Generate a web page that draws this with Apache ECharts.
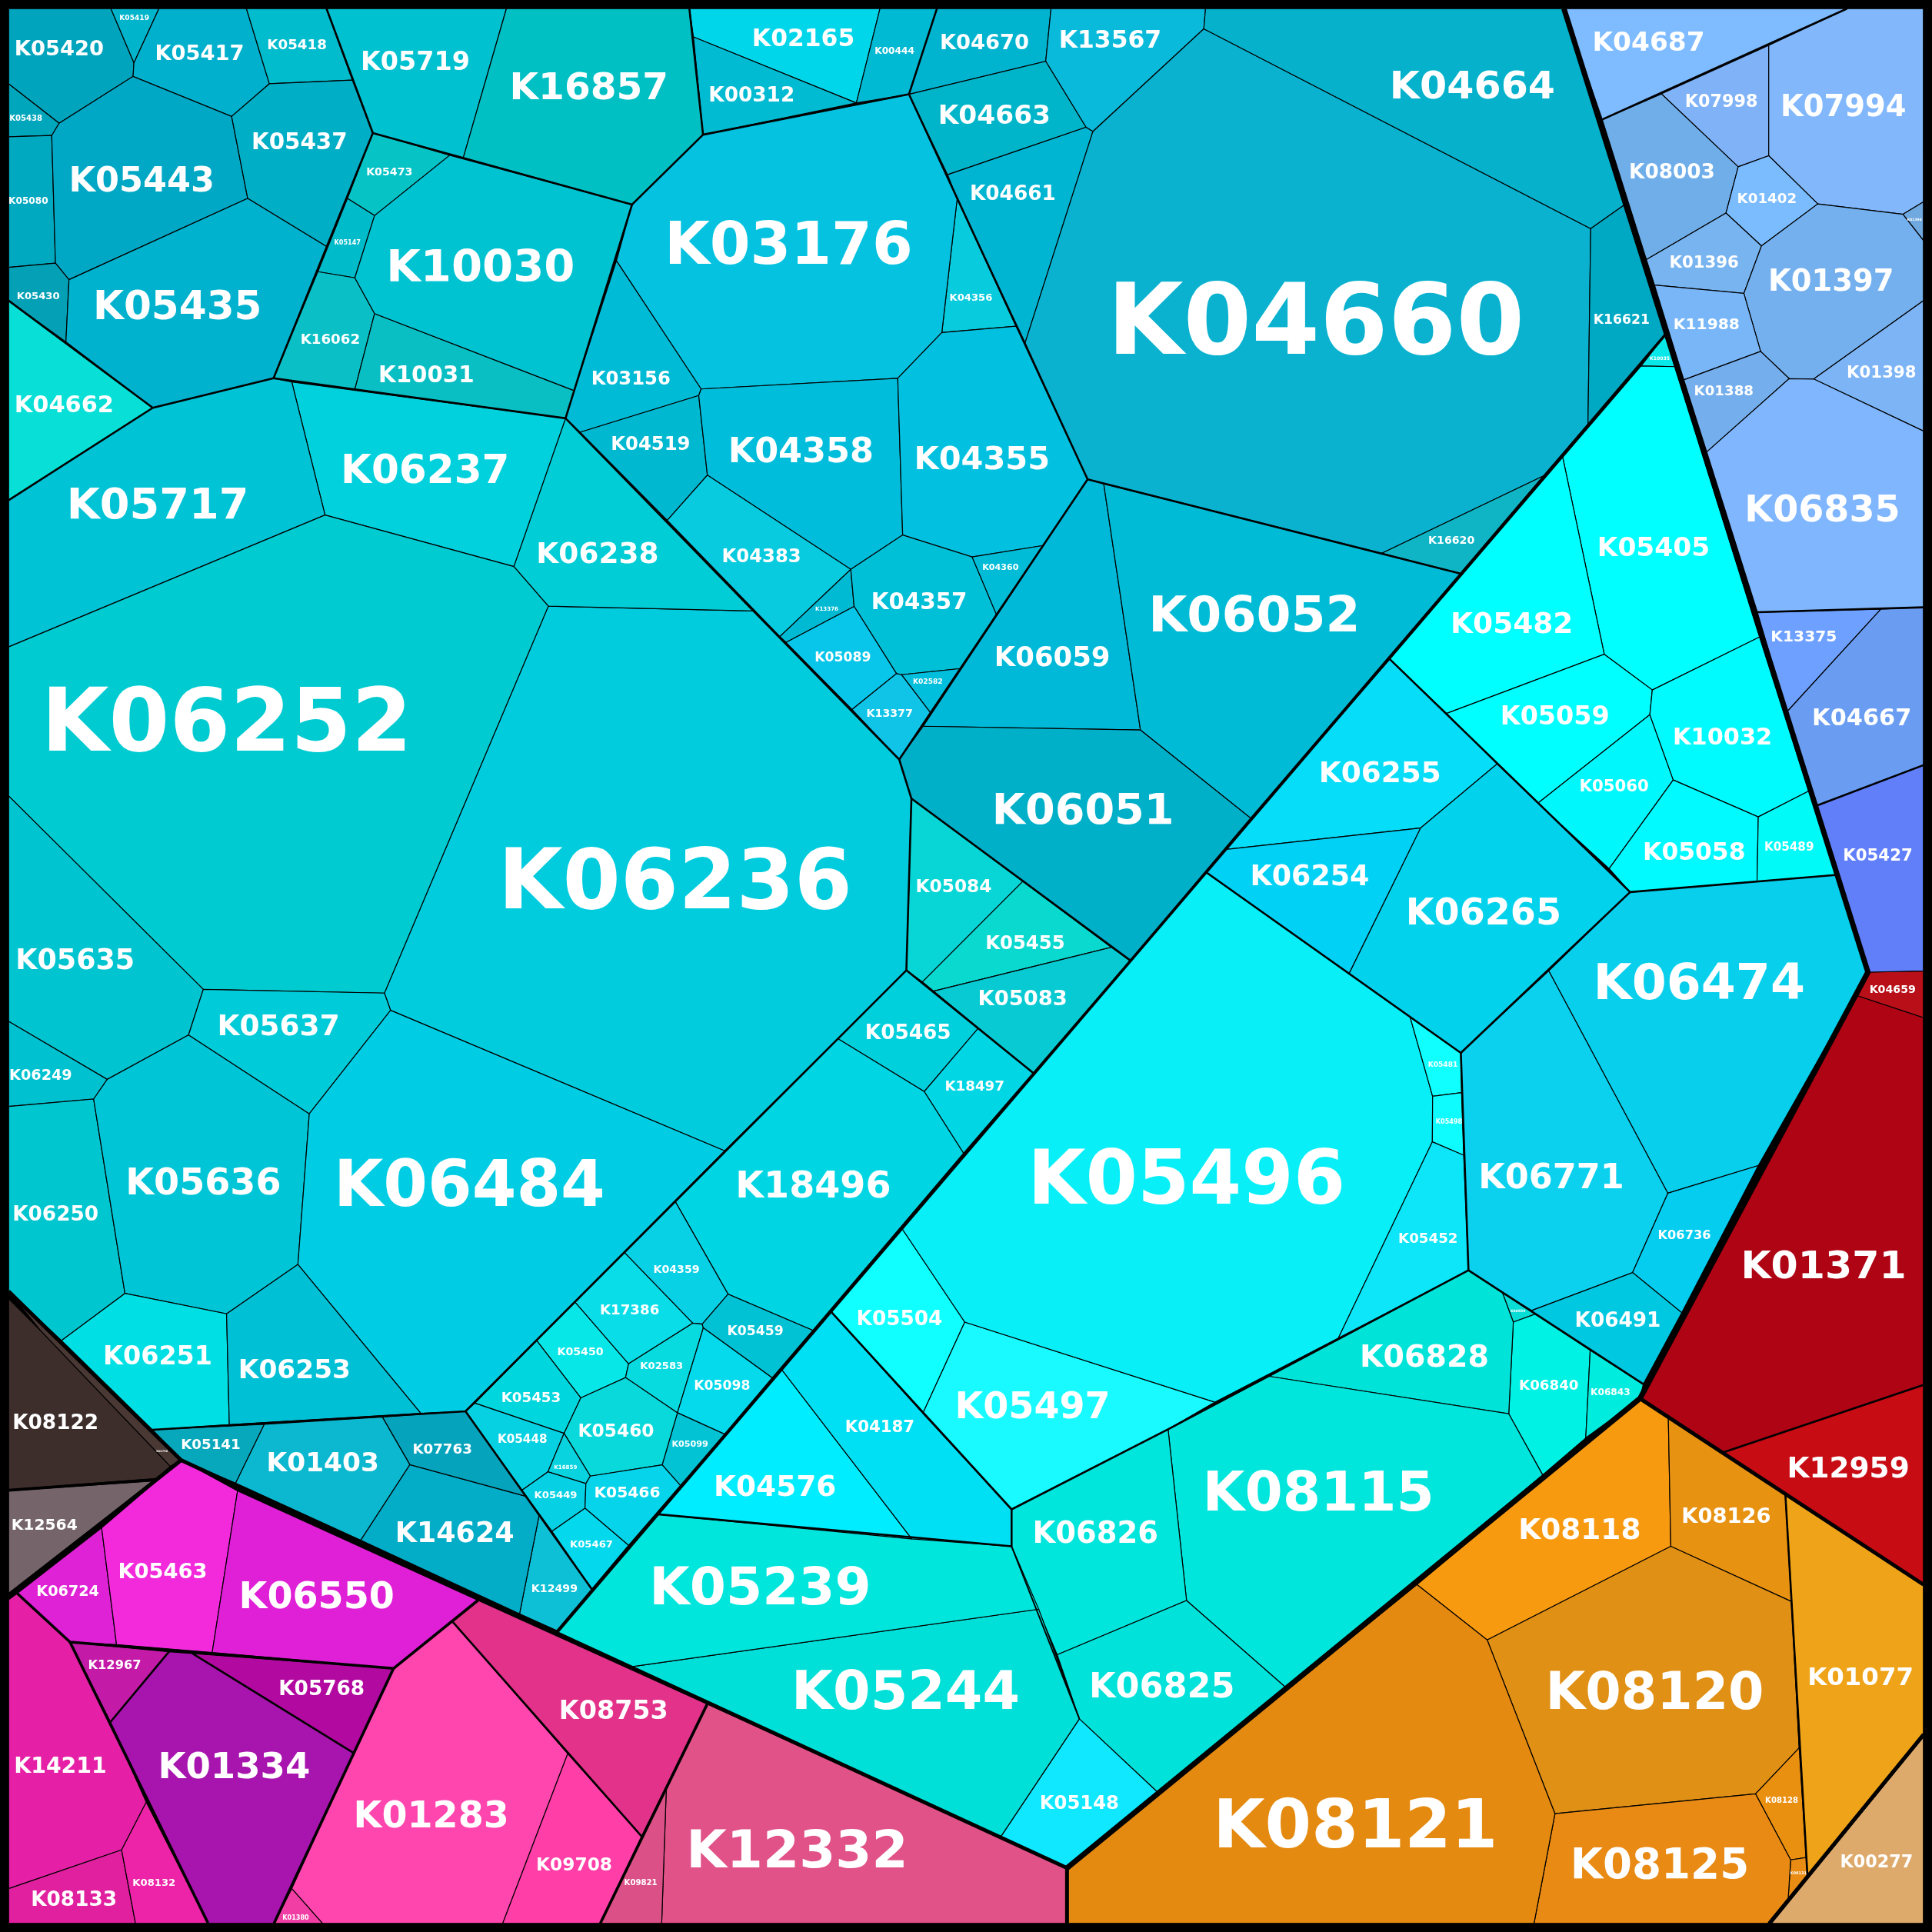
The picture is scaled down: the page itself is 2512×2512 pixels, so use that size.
<!DOCTYPE html>
<html>
<head>
<meta charset="utf-8">
<script src="https://cdn.jsdelivr.net/npm/echarts@6/dist/echarts.min.js"></script>
<style>html,body{margin:0;padding:0;background:#000}#main{width:2512px;height:2512px}</style>
</head>
<body>
<div id="main"></div>
<script>
// voronoi treemap, outlines are in a 1568 x 1568 data space and go through api.coord
var cellNames = [
 'K05420','K05419','K05417','K05418','K05438','K05080','K05443','K05437','K05430','K05435','K04662','K05473','K05147','K16062','K10031','K10030','K05719','K16857',
 'K02165','K00312','K00444','K04670','K13567','K04663','K04661','K04356','K03176','K03156','K04519','K04358','K04355','K04383','K13376','K04357','K04360','K05089','K02582','K13377','K06059','K06052','K06051','K04660','K04664','K16621','K16620',
 'K10035','K05405','K05482','K05059','K05060','K10032','K05058','K05489','K06255','K06254','K06265','K06474','K06771','K06736','K06491','K06839','K06840','K06843','K06828','K08115','K06826','K06825','K05148','K05244','K05239','K04576','K04187','K05504','K05497','K05496','K05481','K05498','K05452',
 'K05084','K05455','K05083','K05465','K18497','K18496','K04359','K17386','K05450','K05453','K05448','K02583','K05459','K05098','K05099','K05460','K16859','K05449','K05466','K05467','K12499','K14624','K07763','K01403','K05141',
 'K06236','K06238','K06237','K05717','K06252','K05635','K05637','K06249','K06250','K05636','K06484','K06251','K06253',
 'K08122','K01759','K12564',
 'K06724','K05463','K06550','K12967','K05768','K01334','K14211','K08133','K08132','K01283','K01380','K09708','K08753','K12332','K09821',
 'K08118','K08126','K08120','K01077','K08128','K08131','K08125','K08121','K00277',
 'K04659','K01371','K12959',
 'K04687','K07998','K07994','K08003','K01402','K01396','K01397','K11988','K01388','K01398','K01394','K06835','K13375','K04667','K05427'
];
var cellFills = [
 '#00a5bd','#00b5cb','#00b0cc','#00bccd','#00a6bb','#00a9c0','#00a8c5','#00aec6','#04a0b5','#00b2ce','#08e0d7','#06c3c6','#00bbca','#0ac0c6','#0abfc3','#00c3d2','#00c1cf','#00c0c4',
 '#00d6ea','#00bbd2','#00b9d2','#00b4d0','#0abadb','#00b5c9','#00b5d2','#08cbde','#05c2e0','#00bbd5','#00b8d0','#00bedb','#02c1e0','#08cbe0','#00bad4','#00c0d8','#00bcd7','#08c6ea','#00bfdc','#10c4e8','#00b9d8','#00bbd6','#00afc8','#0ab2cf','#05b1cb','#00a9c3','#0fb5c5',
 '#08e8e8','#00ffff','#00ffff','#00ffff','#00f8fd','#00fbff','#00faff','#00faf8','#06ddf8','#00d1f5','#03d2ec','#08cfec','#0bd1ee','#05cdf0','#00c8e0','#08ddd5','#00f2e4','#00ecde','#00e3d8','#00e6dc','#00e5dc','#00e2da','#10e8ff','#00e0d8','#00e6dd','#00edff','#00e0f4','#10ffff','#18faff','#08eff8','#10ffff','#0ffcff','#0ce6f8',
 '#08d6d6','#0ad9d0','#08cad2','#00cfdc','#00d6e4','#00d5e3','#08d0e5','#08dde8','#08e7e8','#00d6dd','#06d1e2','#08dbe0','#00c2d4','#04daec','#02c3d4','#0ad9dc','#08d3de','#06d0e4','#05d4ea','#04d8ec','#0ec0d6','#03acc7','#06a3bc','#0cb8cf','#08a8bc',
 '#00ccde','#00cdd6','#00d1dc','#00c3d6','#00cbd1','#00c4d0','#00cbd8','#00c1d0','#00c6cf','#00c5d6','#00cde4','#00dfe3','#00c0d6',
 '#3d2e2b','#4a3834','#75656a',
 '#e022d6','#f22adc','#e020d6','#c41aa8','#b20aa0','#a814ae','#e620a6','#e0209e','#ee24a8','#ff46ae','#f03ea4','#ff3ea8','#e2328a','#e05288','#dc5088',
 '#f89a10','#e89212','#e09014','#efa318','#ea9010','#e88c14','#e88a14','#e48a10','#deaa6c',
 '#b80f18','#ae0414','#c80c14',
 '#7ebbff','#7fb2f6','#82b8fb','#70aeea','#7bbcff','#78b4f0','#74b0ee','#78b6f8','#74aeec','#7cb4f6','#70a8e0','#7fb6fd','#6da0ff','#6a9df2','#627ffa'
];
var cellOutlines = [
 [[7,7],[90,7],[108.7,51],[108,62],[48,100],[7,68]],
 [[90,7],[129,7],[108.7,51]],
 [[129,7],[200,7],[218.6,68],[188,94.5],[108,62],[108.7,51]],
 [[200,7],[265,7],[286,65],[218.6,68]],
 [[7,68],[48,100],[42,110],[7,111]],
 [[7,111],[42,110],[45,213.6],[7,217]],
 [[42,110],[48,100],[108,62],[188,94.5],[201,161],[56,227],[45,213.6]],
 [[188,94.5],[218.6,68],[286,65],[302.6,108],[265,200],[201,161]],
 [[7,217],[45,213.6],[56,227],[53.5,277.5],[7,244]],
 [[56,227],[201,161],[265,200],[222,307],[124,331],[53.5,277.5]],
 [[7,244],[124,331],[7,406]],
 [[302.6,108],[365,126],[304,175],[282,161]],
 [[282,161],[304,175],[288,225.5],[258,220.5]],
 [[258,220.5],[288,225.5],[304,254.5],[288,316],[222,307]],
 [[304,254.5],[466,317],[459,339.5],[288,316]],
 [[365,126],[513,166],[466,317],[304,254.5],[288,225.5],[304,175]],
 [[265,7],[411,7],[376,128],[302.6,108],[286,65]],
 [[411,7],[559.5,7],[570.6,109.3],[513,166],[376,128]],

 [[559.5,7],[714.2,7],[695,83.6],[562.8,30]],
 [[562.8,30],[695,83.6],[570.6,109.3]],
 [[714.2,7],[760.4,7],[737.7,76.5],[695,83.6]],
 [[760.4,7],[853,7],[848.7,49.8],[737.7,76.5]],
 [[853,7],[978.4,7],[977,23.4],[887,106.7],[881.4,103.3],[848.7,49.8]],
 [[737.7,76.5],[848.7,49.8],[881.4,103.3],[769.1,141.8]],
 [[769.1,141.8],[881.4,103.3],[887,106.7],[832,278.2],[776.8,161.5]],
 [[776.8,161.5],[824.6,264.8],[764.4,269.9]],
 [[513,166],[570.6,109.3],[737.7,76.5],[776.8,161.5],[764.4,269.9],[728.6,307],[569,315.7],[500.3,211.7]],
 [[500.3,211.7],[569,315.7],[567.1,321],[470.8,350.8],[459,339.5],[466,317]],
 [[470.8,350.8],[567.1,321],[574.1,385.6],[541.5,422.3]],
 [[569,315.7],[728.6,307],[732.6,434.2],[690.5,462.1],[574.1,385.6],[567.1,321]],
 [[728.6,307],[764.4,269.9],[824.6,264.8],[832,278.2],[882.7,389],[846.8,442.7],[789,452],[732.6,434.2]],
 [[541.5,422.3],[574.1,385.6],[690.5,462.1],[633,516.6]],
 [[690.5,462.1],[693.2,492.2],[638,521.4],[633,516.6]],
 [[690.5,462.1],[732.6,434.2],[789,452],[808.6,498.5],[780,542.6],[731.7,547.6],[727.6,546.7],[693.2,492.2]],
 [[789,452],[846.8,442.7],[808.6,498.5]],
 [[638,521.4],[693.2,492.2],[727.6,546.7],[691.5,575.8]],
 [[731.7,547.6],[780,542.6],[755,578.3]],
 [[691.5,575.8],[727.6,546.7],[731.7,547.6],[755,578.3],[729.8,616.4]],
 [[882.7,389],[895.8,392.8],[925.6,592.5],[749.3,589.4]],
 [[895.8,392.8],[1121.6,449],[1185.2,465.5],[1015,664],[925.6,592.5]],
 [[749.3,589.4],[925.6,592.5],[1015,664],[917.2,779.4],[739.7,648.1],[729.8,616.4]],
 [[977,23.4],[1291,185.6],[1288.8,344.4],[1252.7,386.2],[1121.6,449],[882.7,389],[832,278.2],[887,106.7]],
 [[978.4,7],[1269.3,7],[1318,166.5],[1291,185.6],[977,23.4]],
 [[1291,185.6],[1318,166.5],[1351.7,271.5],[1288.8,344.4]],
 [[1121.6,449],[1252.7,386.2],[1185.2,465.5]],

 [[1351.7,271.5],[1359.4,297.6],[1331.9,297]],
 [[1268.3,371.2],[1331.9,297],[1359.4,297.6],[1428,517],[1341,560],[1302,531]],
 [[1128,535],[1268.3,371.2],[1302,531],[1174,579]],
 [[1174,579],[1302,531],[1341,560],[1339,580],[1248,652],[1215,620]],
 [[1248,652],[1339,580],[1358,633],[1306,705]],
 [[1341,560],[1428,517],[1468,642],[1427,663],[1358,633],[1339,580]],
 [[1306,705],[1358,633],[1427,663],[1426,716],[1323,724]],
 [[1427,663],[1468,642],[1491,710],[1426,716]],
 [[1128,535],[1174,579],[1215,620],[1153,672],[994,689.5]],
 [[994,689.5],[1153,672],[1095,790],[979,708]],
 [[1153,672],[1215,620],[1323,724],[1185.6,854.5],[1095,790]],
 [[1323,724],[1491,710],[1516,789],[1427,946],[1353.6,968.4],[1257,788]],
 [[1185.6,854.5],[1257,788],[1353.6,968.4],[1325,1032.8],[1243.2,1063.6],[1219.3,1049],[1191.8,1031],[1187.9,937.6],[1186.2,886.8]],
 [[1353.6,968.4],[1427,946],[1364.9,1065.4],[1325,1032.8]],
 [[1243.2,1063.6],[1325,1032.8],[1364.9,1065.4],[1333.7,1123.3],[1245.9,1066.5]],
 [[1219.3,1049],[1245.9,1066.5],[1228.2,1073]],
 [[1228.2,1073],[1245.9,1066.5],[1290.6,1095.9],[1287,1167],[1252,1197],[1224.5,1147.4]],
 [[1290.6,1095.9],[1333.7,1123.3],[1331,1135],[1287,1167]],
 [[1191.8,1031],[1219.3,1049],[1228.2,1073],[1224.5,1147.4],[1030,1117]],
 [[1030,1117],[1224.5,1147.4],[1252,1197],[1044,1370],[963,1299],[948,1160]],
 [[948,1160],[963,1299],[858,1343],[821,1255],[821,1225]],
 [[858,1343],[963,1299],[1044,1370],[940,1455],[876,1395]],
 [[876,1395],[940,1455],[866,1516],[812,1491]],
 [[510,1353],[843,1306],[876,1395],[812,1491]],
 [[452,1325],[534,1229],[821,1255],[843,1306],[510,1353]],
 [[534,1229],[634,1111],[740,1249]],
 [[634,1111],[674,1064],[749,1147],[821,1225],[821,1255],[740,1249]],
 [[674,1064],[732,997],[783,1073],[749,1147]],
 [[749,1147],[783,1073],[986,1138],[948,1160],[821,1225]],
 [[979,708],[1144.4,825.3],[1162.7,889.7],[1162.5,926.7],[1086.2,1086],[986,1138],[783,1073],[732,997]],
 [[1144.4,825.3],[1185.6,854.5],[1186.2,886.8],[1162.7,889.7]],
 [[1162.7,889.7],[1186.2,886.8],[1187.9,937.6],[1162.5,926.7]],
 [[1162.5,926.7],[1187.9,937.6],[1191.8,1031],[1086.2,1086]],

 [[739.7,648.1],[830.2,715.3],[748.7,796.9],[735.6,787.5]],
 [[830.2,715.3],[902,768.8],[757.8,804.4],[748.7,796.9]],
 [[757.8,804.4],[902,768.8],[917.2,779.4],[838.5,870.7]],
 [[735.6,787.5],[793.8,834.7],[750.1,885.9],[680,843]],
 [[793.8,834.7],[838.5,870.7],[782,936],[750.1,885.9]],
 [[680,843],[750.1,885.9],[782,936],[659.7,1079.7],[590.9,1050.3],[547.9,974.9]],
 [[547.9,974.9],[590.9,1050.3],[569.9,1074.6],[562.2,1073.9],[506.8,1016.6]],
 [[506.8,1016.6],[562.2,1073.9],[510.1,1106.9],[466.7,1056.9]],
 [[466.7,1056.9],[510.1,1106.9],[507.7,1118],[471.4,1134.5],[435.6,1088.1]],
 [[435.6,1088.1],[471.4,1134.5],[457.8,1163.3],[385.4,1138.8]],
 [[385.4,1138.8],[457.8,1163.3],[444.7,1194.5],[423.7,1209.4],[377.8,1145.4]],
 [[510.1,1106.9],[562.2,1073.9],[569.9,1074.6],[570.8,1077.7],[549.8,1146.6],[507.7,1118]],
 [[569.9,1074.6],[590.9,1050.3],[659.7,1079.7],[626.7,1118.2],[570.8,1077.7]],
 [[570.8,1077.7],[626.7,1118.2],[588,1163.9],[549.8,1146.6]],
 [[549.8,1146.6],[588,1163.9],[552.2,1205.6],[537.4,1188.9]],
 [[471.4,1134.5],[507.7,1118],[549.8,1146.6],[537.4,1188.9],[479.1,1198],[457.8,1163.3]],
 [[457.8,1163.3],[479.1,1198],[475.5,1204],[444.7,1194.5]],
 [[423.7,1209.4],[444.7,1194.5],[475.5,1204],[474.8,1224.1],[448,1242.8]],
 [[479.1,1198],[537.4,1188.9],[552.2,1205.6],[510.1,1254.2],[474.8,1224.1],[475.5,1204]],
 [[448,1242.8],[474.8,1224.1],[510.1,1254.2],[480.3,1289.7]],
 [[437.5,1230],[480.3,1289.7],[451.9,1323.3],[421.7,1309.7]],
 [[332.6,1188.7],[427.2,1214.5],[437.5,1230],[421.7,1309.7],[292.7,1250]],
 [[310.3,1150],[377.8,1145.4],[427.2,1214.5],[332.6,1188.7]],
 [[214.4,1156],[310.3,1150],[332.6,1188.7],[292.7,1250],[191.2,1203.6]],
 [[123.7,1160.4],[214.4,1156],[191.2,1203.6],[147,1185]],

 [[445,492],[611.5,495.8],[729.8,616.4],[739.7,648.1],[735.6,787.5],[588,934],[317,820],[312,806]],
 [[417,459.8],[459,339.5],[611.5,495.8],[445,492]],
 [[236.8,310],[459,339.5],[417,459.8],[263.8,418]],
 [[7,406],[124,331],[222,307],[236.8,310],[263.8,418],[7,525]],
 [[7,525],[263.8,418],[417,459.8],[445,492],[312,806],[165,803],[7,646]],
 [[7,646],[165,803],[153,840],[87,876],[7,829]],
 [[165,803],[312,806],[317,820],[251,904],[153,840]],
 [[7,829],[87,876],[76,892],[7,898]],
 [[7,898],[76,892],[101.4,1049.7],[49.9,1088],[7,1048]],
 [[76,892],[87,876],[153,840],[251,904],[241.8,1026.2],[183.9,1066.3],[101.4,1049.7]],
 [[317,820],[588,934],[377.8,1145.4],[341.5,1147],[241.8,1026.2],[251,904]],
 [[101.4,1049.7],[183.9,1066.3],[186.1,1156.2],[123.7,1160.4],[49.9,1088]],
 [[183.9,1066.3],[241.8,1026.2],[341.5,1147],[186.1,1156.2]],

 [[7,1054],[33,1080],[138.2,1190],[127,1200],[7,1209]],
 [[7,1048],[147,1185],[138.2,1190],[33,1080]],
 [[7,1210],[124,1202],[7,1293]],

 [[14,1293.2],[82.5,1240],[94.6,1334.8],[56.8,1332.7]],
 [[82.5,1240],[147,1185],[192.8,1210],[172.2,1341.2],[94.6,1334.8]],
 [[192.8,1210],[387.9,1298.8],[319.4,1354.1],[172.2,1341.2]],
 [[56.8,1332.7],[137.1,1340.6],[89.6,1397.6]],
 [[156.2,1342],[319.4,1354.1],[286.9,1422.7]],
 [[137.1,1340.6],[156.2,1342],[286.9,1422.7],[222.4,1561],[168.9,1561],[89.6,1397.6]],
 [[7,1298.4],[14,1293.2],[56.8,1332.7],[89.6,1397.6],[118.7,1462.7],[98.7,1501.4],[7,1532.8]],
 [[7,1532.8],[98.7,1501.4],[110,1561],[7,1561]],
 [[98.7,1501.4],[118.7,1462.7],[168.9,1561],[110,1561]],
 [[319.4,1354.1],[367.2,1316],[460.8,1423.2],[408,1561],[261.8,1561],[236.8,1532.8],[286.9,1422.7]],
 [[236.8,1532.8],[261.8,1561],[222.4,1561]],
 [[460.8,1423.2],[520.7,1490.3],[487.2,1561],[408,1561]],
 [[367.2,1316],[387.9,1298.8],[574,1383],[520.7,1490.3],[460.8,1423.2]],
 [[540.8,1451],[574,1383],[866,1516],[866,1561],[537,1561]],
 [[540.8,1451],[537,1561],[487.2,1561]],

 [[1150,1286],[1331,1135],[1354,1151],[1356,1255],[1207,1331]],
 [[1354,1151],[1449,1213],[1454.4,1300],[1356,1255]],
 [[1207,1331],[1356,1255],[1454.4,1300],[1460.2,1418.6],[1424.8,1455.9],[1262,1472]],
 [[1449,1213],[1561,1286],[1561,1406.6],[1466.9,1522],[1460.2,1418.6],[1454.4,1310.9]],
 [[1424.8,1455.9],[1460.2,1418.6],[1465.8,1507.5],[1453.3,1509.5]],
 [[1453.3,1509.5],[1465.8,1507.5],[1466.9,1522],[1451.3,1540.7]],
 [[1262,1472],[1424.8,1455.9],[1453.3,1509.5],[1451.3,1540.7],[1434.6,1561],[1245,1561]],
 [[866,1516],[1150,1286],[1207,1331],[1262,1472],[1245,1561],[866,1561]],
 [[1561,1409.7],[1561,1561],[1437.7,1561]],

 [[1516,789],[1561,788],[1561,826],[1507,808]],
 [[1507,808],[1561,826],[1561,1124],[1398,1179],[1331,1135]],
 [[1398,1179],[1561,1124],[1561,1286]],

 [[1269.3,7],[1499,7],[1300.4,97]],
 [[1348.4,76.2],[1435.5,36.8],[1435.5,126.4],[1410.7,135.4]],
 [[1435.5,36.8],[1499,7],[1561,7],[1561,163.9],[1544.5,173.9],[1475.3,165.5],[1435.5,126.4]],
 [[1300.4,97],[1348.4,76.2],[1410.7,135.4],[1400.8,172.9],[1336.2,210.7]],
 [[1410.7,135.4],[1435.5,126.4],[1475.3,165.5],[1429.6,199.6],[1400.8,172.9]],
 [[1336.2,210.7],[1400.8,172.9],[1429.6,199.6],[1415.3,238.1],[1342.8,231.4]],
 [[1429.6,199.6],[1475.3,165.5],[1544.5,173.9],[1561,195],[1561,244],[1472,307.6],[1452.1,307.3],[1428.9,285.2],[1415.3,238.1]],
 [[1342.8,231.4],[1415.3,238.1],[1428.9,285.2],[1366.6,308.3]],
 [[1366.6,308.3],[1428.9,285.2],[1452.1,307.3],[1385.2,366.8]],
 [[1472,307.6],[1561,244],[1561,349.8]],
 [[1544.5,173.9],[1561,163.9],[1561,195]],
 [[1385.2,366.8],[1452.1,307.3],[1472,307.6],[1561,349.8],[1561,492.9],[1426.3,496.9]],
 [[1426.3,496.9],[1526.6,494.3],[1450,578]],
 [[1526.6,494.3],[1561,492.9],[1561,621],[1474,654],[1450,578]],
 [[1474,654],[1561,621],[1561,788],[1516,789]]
];
var labelSpots = [
 [48,39],[109,14],[162,43],[241,36],[21,96],[23,163],[115,146],[243,115],[31,240],[144,248],[52,328],[316,139],[282,197],[268,275],[346,304],[390,216],[337,50],[478,70],
 [652,31],[610,77],[726,41],[799,34],[901,32],[807,93],[822,157],[788,241],[640,198],[512,307],[528,360],[650,366],[797,372],[618,451],[671,494],[746,488],[812,460],[684,533],[753,553],[722,579],[854,533],[1018,499],[879,657],[1068,260],[1195,69],[1316,259],[1178,438],
 [1347,291],[1342,444],[1227,506],[1262,581],[1310,638],[1398,598],[1375,691],[1452,687],[1120,627],[1063,711],[1204,740],[1379,797],[1259,955],[1367,1002],[1313,1071],[1232,1064],[1257,1124],[1307,1130],[1156,1101],[1070,1211],[889,1244],[943,1368],[876,1463],[735,1372],[617,1288],[629,1206],[714,1158],[730,1070],[838,1141],[963,956],[1171,864],[1176,910],[1159,1005],
 [774,719],[832,765],[830,810],[737,838],[791,881],[660,962],[549,1030],[511,1063],[471,1097],[431,1134],[424,1168],[537,1108],[613,1080],[586,1124],[560,1172],[500,1161],[459,1191],[451,1213],[509,1211],[480,1253],[450,1289],[369,1244],[359,1176],[262,1187],[171,1172],
 [548,714],[485,449],[345,381],[128,409],[184,585],[61,779],[226,832],[33,872],[45,985],[165,959],[381,961],[128,1100],[239,1111],
 [45,1154],[131.5,1177.6],[36,1237],
 [55,1291],[132,1275],[257,1295],[93,1351],[261,1370],[190,1433],[49,1433],[60,1541],[125,1528],[350,1473],[240,1556],[466,1513],[498,1388],[647,1501],[520,1528],
 [1282,1241],[1401,1230],[1343,1373],[1510,1361],[1446,1461],[1459.6,1520.4],[1347,1513],[1100,1481],[1523,1511],
 [1536,803],[1480,1027],[1500,1191],
 [1338,34],[1397,82],[1496,86],[1357,139],[1434,161],[1383,213],[1486,228],[1385,263],[1399,317],[1527,302],[1553.8,178.2],[1479,413],[1464,516],[1511,582],[1524,694]
];
var labelSizes = [
 27,9,27,18,10,12,44,29,13,51,30,14,8,18,29,57,33,48,
 31,26,12,27,31,34,26,13,75,24,24,44,41,24,7,29,11,17,9,14,35,64,55,126,50,17,14,
 6,34,37,33,21,30,31,15,37,36,47,64,44,16,26,4.5,18,12,39,70,38,44,24,69,67,37,21,26,47,96,9,8,18,
 23,24,27,26,18,47,14,18,14,18,15,13,17,17,11,23,7,13,20,13,14,36,18,34,18,
 107,37,51,55,112,36,37,19,26,47,82,33,34,
 26,3.5,20,
 19,27,47,16,26,46,28,26,13,47,8,23,33,67,10,
 37,27,66,32,10,5,54,86,22,
 14,50,37,
 34,22,38,26,18,21,38,20,18,21,4.5,47,20,30,21
];
// region boundaries, heaviest first
var ridgeHeavy = [
 [[1269.3,7],[1516,789],[1331,1135],[866,1516]]
];
var ridgeWide = [
 [[7,1048],[147,1185],[866,1516]],
 [[147,1185],[7,1296]],
 [[1331,1135],[1561,1286]],
 [[1436,1561],[1561,1408]],
 [[866,1516],[866,1561]]
];
var ridgeMid = [
 [[1351.7,271.5],[452,1325]],
 [[7,1209.5],[125,1201]],
 [[14,1293.2],[56.8,1332.7],[319.4,1354.1],[387.9,1298.8]],
 [[56.8,1332.7],[168.9,1561]],
 [[319.4,1354.1],[222.4,1561]],
 [[574,1383],[487.2,1561]]
];
var ridgeThin = [
 [[7,244],[124,331],[7,406]],
 [[124,331],[222,307],[459,339.5],[611.5,495.8],[729.8,616.4],[739.7,648.1],[735.6,787.5],[377.8,1145.4],[123.7,1160.4]],
 [[265,7],[302.6,108],[222,307]],
 [[302.6,108],[513,166],[459,339.5]],
 [[513,166],[570.6,109.3],[737.7,76.5]],
 [[559.5,7],[570.6,109.3]],
 [[760.4,7],[737.7,76.5],[882.7,389],[729.8,616.4]],
 [[882.7,389],[1185.2,465.5]],
 [[739.7,648.1],[917.2,779.4]],
 [[735.6,787.5],[838.5,870.7]],
 [[377.8,1145.4],[480.3,1289.7]],
 [[979,708],[1185.6,854.5],[1323,724],[1128,535]],
 [[1323,724],[1491,710]],
 [[1185.6,854.5],[1191.8,1031],[1333.7,1123.3]],
 [[1191.8,1031],[948,1160],[821,1225],[674,1064]],
 [[821,1225],[821,1255]],
 [[534,1229],[821,1255]],
 [[1449,1213],[1466.9,1522]],
 [[367.2,1316],[520.7,1490.3]],
 [[137.1,1340.6],[89.6,1397.6]],
 [[156.2,1342],[286.9,1422.7]],
 [[1300.4,97],[1499,7]],
 [[1426.3,496.9],[1561,492.9]],
 [[1474,654],[1561,621]],
 [[1398,1179],[1561,1124]]
];
var ridgeFine = [
 [[821,1255],[876,1395]]
];
var ridgeGroups = [[ridgeHeavy,7],[ridgeWide,5],[ridgeMid,3.6],[ridgeThin,2.6],[ridgeFine,1.9]];

var myChart = echarts.init(document.getElementById('main'), null, {renderer:'canvas'});

function renderCell(params, api){
    var i = api.value(0);
    return {
        type:'polygon',
        shape:{points: cellOutlines[i].map(function(p){ return api.coord(p); })},
        style:{fill: cellFills[i], stroke:'#000', lineWidth:1.2}
    };
}
function renderRidge(params, api){
    var i = api.value(0);
    var g = ridgeGroups[i];
    return {
        type:'group',
        children: g[0].map(function(line){
            return {
                type:'polyline',
                shape:{points: line.map(function(p){ return api.coord(p); })},
                style:{fill:null, stroke:'#000', lineWidth:g[1], lineJoin:'round'}
            };
        })
    };
}
function renderLabel(params, api){
    var i = api.value(0);
    var c = api.coord(labelSpots[i]);
    var size = labelSizes[i] * 1.012;
    return {
        type:'text',
        x:c[0], y:c[1] + size*0.08,
        style:{
            text: cellNames[i],
            fill:'#fff',
            font:'bold '+size+'px "DejaVu Sans"',
            align:'center', verticalAlign:'middle',
            shadowColor:'rgba(30,30,30,0.85)',
            shadowBlur:0,
            shadowOffsetX:0.6+size*0.022,
            shadowOffsetY:0.6+size*0.022
        }
    };
}

var option = {
    backgroundColor:'#000',
    animation:false,
    grid:{left:0,right:0,top:0,bottom:0},
    xAxis:{type:'value',min:0,max:1568,show:false},
    yAxis:{type:'value',min:0,max:1568,inverse:true,show:false},
    tooltip:{show:false},
    series:[
        {type:'custom',renderItem:renderCell,silent:true,clip:false,encode:{x:-1,y:-1},data:cellNames.map(function(n,i){return [i];})},
        {type:'custom',renderItem:renderRidge,silent:true,clip:false,encode:{x:-1,y:-1},data:ridgeGroups.map(function(g,i){return [i];})},
        {type:'custom',renderItem:renderLabel,silent:true,clip:false,encode:{x:-1,y:-1},data:cellNames.map(function(n,i){return [i];})}
    ]
};
myChart.setOption(option);
</script>
</body>
</html>
